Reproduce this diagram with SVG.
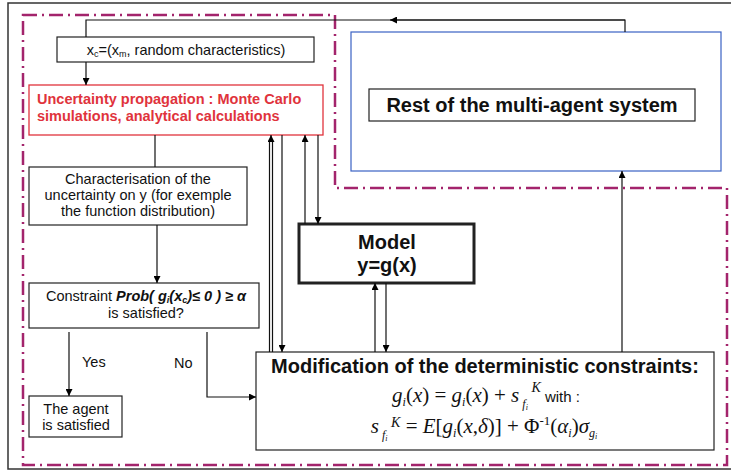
<svg xmlns="http://www.w3.org/2000/svg" width="731" height="472" viewBox="0 0 731 472">
<defs>
<marker id="ah" viewBox="0 0 10 10" refX="10" refY="5" markerWidth="7" markerHeight="7" markerUnits="userSpaceOnUse" orient="auto">
<path d="M0,0 L10,5 L0,10 z" fill="#000"/>
</marker>
<style>
.box{fill:#fff;stroke:#222;stroke-width:1.2}
.t{font-family:"Liberation Sans",Arial,sans-serif;font-size:14.5px;fill:#111}
.tb{font-family:"Liberation Sans",Arial,sans-serif;font-size:20px;font-weight:bold;fill:#111}
.red{font-family:"Liberation Sans",Arial,sans-serif;font-size:14.5px;font-weight:bold;fill:#e0333c}
.m{font-family:"Liberation Serif","Times New Roman",serif;font-size:21px;fill:#111}
.i{font-style:italic}
.c{fill:none;stroke:#111;stroke-width:1.2}
</style>
</defs>
<rect x="8" y="3" width="730" height="466" fill="#fff" stroke="#333" stroke-width="1.5"/>
<path d="M23,15 H335 V188 H727 V465 H23 Z" fill="none" stroke="#a3246c" stroke-width="2.5" stroke-dasharray="14 5 2 5"/>

<g id="rest-system">
<rect x="351" y="32" width="370" height="139" fill="#fff" stroke="#3a62c4" stroke-width="1.2"/>
<rect x="369" y="89" width="326" height="32" class="box" stroke-width="1.5"/>
<text x="532" y="112" class="tb" text-anchor="middle">Rest of the multi-agent system</text>
</g>

<g id="xc">
<rect x="57" y="37" width="257" height="25" class="box"/>
<text x="186" y="55" class="t" text-anchor="middle">x<tspan font-size="9" dy="2">c</tspan><tspan dy="-2">=(x</tspan><tspan font-size="9" dy="2">m</tspan><tspan dy="-2">, random characteristics)</tspan></text>
</g>

<g id="uncertainty-propagation">
<rect x="29" y="85" width="294" height="50" fill="#fff" stroke="#e0333c" stroke-width="1.3"/>
<text x="37" y="104" class="red">Uncertainty propagation : Monte Carlo</text>
<text x="37" y="121" class="red">simulations, analytical calculations</text>
</g>

<g id="characterisation">
<rect x="29" y="167" width="218" height="58" class="box"/>
<text x="138" y="184" class="t" text-anchor="middle">Characterisation of the</text>
<text x="138" y="200" class="t" text-anchor="middle">uncertainty on y (for exemple</text>
<text x="138" y="216" class="t" text-anchor="middle">the function distribution)</text>
</g>

<g id="constraint">
<rect x="29" y="283" width="230" height="45" class="box"/>
<text x="146" y="301" class="t" text-anchor="middle" font-size="14">Constraint <tspan font-weight="bold" font-style="italic">Prob( g</tspan><tspan font-weight="bold" font-style="italic" font-size="9" dy="2">i</tspan><tspan font-weight="bold" font-style="italic" dy="-2">(x</tspan><tspan font-weight="bold" font-style="italic" font-size="9" dy="2">c</tspan><tspan font-weight="bold" font-style="italic" dy="-2">)≤ 0 ) ≥ α</tspan></text>
<text x="146" y="318" class="t" text-anchor="middle" font-size="14">is satisfied?</text>
</g>

<g id="agent-satisfied">
<rect x="29" y="396" width="93" height="41" class="box"/>
<text x="76" y="414" class="t" text-anchor="middle" font-size="16">The agent</text>
<text x="76" y="430" class="t" text-anchor="middle" font-size="16">is satisfied</text>
</g>

<g id="model">
<rect x="299" y="224" width="175" height="59" fill="#fff" stroke="#222" stroke-width="3"/>
<text x="387" y="249" class="tb" text-anchor="middle">Model</text>
<text x="387" y="272" class="tb" text-anchor="middle">y=g(x)</text>
</g>

<g id="modification">
<rect x="256" y="352" width="458" height="98" class="box" stroke-width="1.5"/>
<text x="485" y="373" class="tb" text-anchor="middle">Modification of the deterministic constraints:</text>
<text x="486" y="402" class="m" text-anchor="middle"><tspan class="i">g</tspan><tspan class="i" font-size="12" dy="4">i</tspan><tspan dy="-4">(</tspan><tspan class="i">x</tspan><tspan>) = </tspan><tspan class="i">g</tspan><tspan class="i" font-size="12" dy="4">i</tspan><tspan dy="-4">(</tspan><tspan class="i">x</tspan><tspan>) + </tspan><tspan class="i">s</tspan><tspan class="i" font-size="12" dy="6"> f</tspan><tspan class="i" font-size="8" dy="2">i</tspan><tspan class="i" font-size="14" dy="-18"> K</tspan><tspan font-family="'Liberation Sans',Arial,sans-serif" font-size="15" dy="10"> with :</tspan></text>
<text x="484" y="433" class="m" text-anchor="middle"><tspan class="i">s</tspan><tspan class="i" font-size="12" dy="6"> f</tspan><tspan class="i" font-size="8" dy="2">i</tspan><tspan class="i" font-size="14" dy="-14"> K</tspan><tspan dy="6"> = </tspan><tspan class="i">E</tspan><tspan>[</tspan><tspan class="i">g</tspan><tspan class="i" font-size="12" dy="4">i</tspan><tspan dy="-4">(</tspan><tspan class="i">x</tspan><tspan>,</tspan><tspan class="i">δ</tspan><tspan>)] + Φ</tspan><tspan font-size="13" dy="-8">-1</tspan><tspan dy="8">(</tspan><tspan class="i">α</tspan><tspan class="i" font-size="12" dy="4">i</tspan><tspan dy="-4">)</tspan><tspan class="i">σ</tspan><tspan class="i" font-size="12" dy="4">g</tspan><tspan class="i" font-size="8" dy="2">i</tspan></text>
</g>

<g id="connectors">
<path class="c" d="M625,32 V20 H86 V37"/>
<path class="c" d="M625,20 H390" marker-end="url(#ah)"/>
<path class="c" d="M86,62 V85" marker-end="url(#ah)"/>
<path class="c" d="M155,135 V167"/>
<path class="c" d="M157,225 V283" marker-end="url(#ah)"/>
<path class="c" d="M69,332 V396" marker-end="url(#ah)"/>
<path class="c" d="M207,332 V397 H256" marker-end="url(#ah)"/>
<path class="c" d="M269.5,352 V140"/>
<path class="c" d="M272.5,352 V140"/>
<path class="c" d="M271,140 V135" marker-end="url(#ah)"/>
<path class="c" d="M282,135 V352" marker-end="url(#ah)"/>
<path class="c" d="M305,224 V135" marker-end="url(#ah)"/>
<path class="c" d="M318,135 V224" marker-end="url(#ah)"/>
<path class="c" d="M375,352 V283" stroke-width="2" marker-end="url(#ah)"/>
<path class="c" d="M386,283 V352" marker-end="url(#ah)"/>
<path class="c" d="M622,352 V171" marker-end="url(#ah)"/>
<text x="82" y="367" class="t" font-size="16">Yes</text>
<text x="174" y="368" class="t" font-size="16">No</text>
</g>
</svg>
